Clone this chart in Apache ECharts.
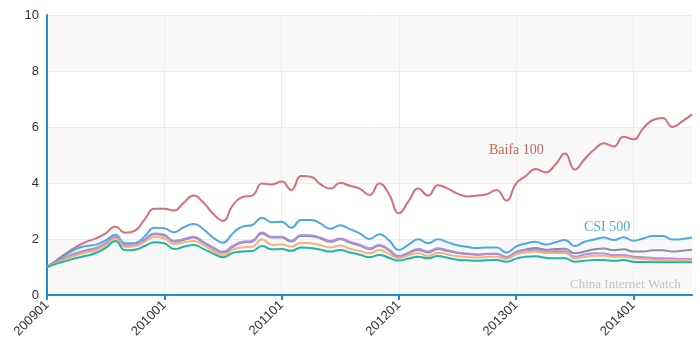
<!DOCTYPE html>
<html>
<head>
<meta charset="utf-8">
<script src="https://cdn.jsdelivr.net/npm/echarts@6/dist/echarts.min.js"></script>
<style>
  html, body { margin: 0; padding: 0; background: #fff; }
  #chart { width: 700px; height: 352px; }
</style>
</head>
<body>
<div id="chart"></div>
<script>
// months 200901 .. 201407
const months = [];
for (let y = 2009; y <= 2014; y++) {
  for (let m = 1; m <= 12; m++) {
    if (y === 2014 && m > 7) break;
    months.push(String(y) + (m < 10 ? "0" + m : m));
  }
}

const baifa100 = [1.0, 1.25, 1.5, 1.72, 1.9, 2.02, 2.2, 2.45, 2.22, 2.3, 2.7, 3.08, 3.08, 3.02, 3.3, 3.55, 3.3, 2.9, 2.65, 3.2,
  3.5, 3.55, 3.98, 3.95, 4.05, 3.75, 4.25, 4.22, 3.95, 3.8, 4.0, 3.9, 3.8, 3.57, 3.98, 3.6, 2.92, 3.35, 3.8, 3.55,
  3.92, 3.8, 3.62, 3.52, 3.55, 3.6, 3.75, 3.37, 3.98, 4.25, 4.5, 4.38, 4.65, 5.05, 4.48, 4.85, 5.2, 5.42, 5.3, 5.65,
  5.56, 5.95, 6.25, 6.32, 6.0, 6.2, 6.45];
const csi500 = [1.0, 1.2, 1.45, 1.65, 1.75, 1.8, 1.95, 2.15, 1.85, 1.85, 2.1, 2.4, 2.38, 2.24, 2.42, 2.54, 2.35, 2.05, 1.87, 2.2,
  2.44, 2.5, 2.76, 2.6, 2.62, 2.4, 2.68, 2.68, 2.55, 2.37, 2.49, 2.35, 2.2, 2.0, 2.17, 1.95, 1.61, 1.8, 1.99, 1.85,
  1.99, 1.88, 1.78, 1.72, 1.68, 1.7, 1.7, 1.52, 1.73, 1.84, 1.9, 1.8, 1.88, 1.96, 1.75, 1.9, 1.98, 2.05, 1.96, 2.06,
  1.94, 2.02, 2.11, 2.11, 1.98, 2.0, 2.05];
const purpleIdx = [1.0, 1.18, 1.35, 1.5, 1.6, 1.68, 1.85, 2.1, 1.78, 1.8, 2.0, 2.2, 2.15, 1.94, 2.0, 2.08, 1.9, 1.7, 1.55, 1.75,
  1.9, 1.94, 2.23, 2.08, 2.08, 1.94, 2.14, 2.13, 2.05, 1.93, 2.02, 1.9, 1.8, 1.67, 1.79, 1.62, 1.39, 1.52, 1.64, 1.55,
  1.67, 1.6, 1.52, 1.48, 1.45, 1.47, 1.47, 1.35, 1.52, 1.6, 1.62, 1.55, 1.56, 1.56, 1.37, 1.45, 1.49, 1.48, 1.42, 1.43,
  1.37, 1.35, 1.32, 1.31, 1.3, 1.29, 1.29];
const grayIdx = [1.0, 1.16, 1.33, 1.47, 1.57, 1.65, 1.82, 2.07, 1.75, 1.77, 1.97, 2.17, 2.12, 1.91, 1.97, 2.05, 1.87, 1.67, 1.52, 1.72,
  1.87, 1.91, 2.2, 2.05, 2.05, 1.91, 2.11, 2.1, 2.02, 1.9, 1.99, 1.87, 1.77, 1.64, 1.76, 1.59, 1.36, 1.49, 1.61, 1.52,
  1.64, 1.57, 1.5, 1.46, 1.44, 1.46, 1.47, 1.36, 1.54, 1.63, 1.68, 1.62, 1.64, 1.65, 1.49, 1.55, 1.63, 1.66, 1.6, 1.63,
  1.55, 1.55, 1.6, 1.6, 1.55, 1.58, 1.62];
const orangeIdx = [1.0, 1.15, 1.3, 1.42, 1.52, 1.6, 1.78, 2.02, 1.72, 1.75, 1.9, 2.07, 2.02, 1.82, 1.88, 1.93, 1.78, 1.58, 1.43, 1.62,
  1.7, 1.72, 1.99, 1.79, 1.8, 1.73, 1.87, 1.85, 1.78, 1.7, 1.77, 1.65, 1.57, 1.49, 1.61, 1.47, 1.31, 1.42, 1.49, 1.39,
  1.51, 1.45, 1.38, 1.36, 1.34, 1.36, 1.37, 1.29, 1.45, 1.52, 1.55, 1.5, 1.5, 1.5, 1.31, 1.36, 1.4, 1.4, 1.36, 1.37,
  1.31, 1.29, 1.26, 1.25, 1.24, 1.24, 1.24];
const tealIdx = [1.0, 1.12, 1.22, 1.32, 1.4, 1.5, 1.68, 1.93, 1.6, 1.62, 1.75, 1.88, 1.85, 1.64, 1.72, 1.79, 1.65, 1.48, 1.35, 1.5,
  1.55, 1.57, 1.75, 1.63, 1.64, 1.58, 1.7, 1.68, 1.62, 1.55, 1.61, 1.52, 1.44, 1.35, 1.43, 1.33, 1.23, 1.3, 1.37, 1.31,
  1.39, 1.33, 1.26, 1.24, 1.22, 1.24, 1.25, 1.19, 1.3, 1.37, 1.38, 1.33, 1.31, 1.31, 1.19, 1.22, 1.25, 1.25, 1.22, 1.25,
  1.19, 1.18, 1.17, 1.17, 1.17, 1.17, 1.17];

const axisBlue = "#1b8ed4";
const serif = "Liberation Serif, DejaVu Serif, serif";

const makeLine = (name, data, color) => ({
  name: name,
  type: "line",
  data: data,
  smooth: true,
  showSymbol: false,
  lineStyle: { color: color, width: 2 },
  itemStyle: { color: color }
});

const chart = echarts.init(document.getElementById("chart"));
chart.setOption({
  animation: false,
  grid: { left: 47, right: 8, top: 15, bottom: 57 },
  xAxis: {
    type: "category",
    data: months,
    boundaryGap: false,
    axisLine: { lineStyle: { color: axisBlue, width: 2 } },
    axisTick: { interval: 11, length: 5, lineStyle: { color: axisBlue, width: 2 } },
    axisLabel: { interval: 11, rotate: 45, color: "#333", fontSize: 13, fontFamily: "Liberation Sans, Arial, sans-serif" },
    splitLine: { show: true, interval: 11, lineStyle: { color: "#ececec" } }
  },
  yAxis: {
    type: "value",
    min: 0,
    max: 10,
    interval: 2,
    axisLine: { show: true, lineStyle: { color: axisBlue, width: 2 } },
    axisTick: { show: false },
    axisLabel: { color: "#333", fontSize: 13, fontFamily: "Liberation Sans, Arial, sans-serif" },
    splitLine: { lineStyle: { color: "#ececec" } },
    splitArea: { show: true, areaStyle: { color: ["#f8f8f9", "#ffffff"] } }
  },
  graphic: {
    elements: [
      { type: "text", x: 489, y: 143, z: 100, style: { text: "Baifa 100", fill: "#c9665e", fontSize: 14, fontFamily: serif } },
      { type: "text", x: 584, y: 220, z: 100, style: { text: "CSI 500", fill: "#55aae0", fontSize: 14, fontFamily: serif } },
      { type: "text", x: 570, y: 278, z: 100, style: { text: "China Internet Watch", fill: "#c4c4c4", fontSize: 13, fontFamily: serif } }
    ]
  },
  series: [
    makeLine("Baifa 100", baifa100, "#d4707a"),
    makeLine("CSI 500", csi500, "#4ea8e6"),
    makeLine("Index C", grayIdx, "#8b8ca3"),
    makeLine("Index B", purpleIdx, "#ab94dc"),
    makeLine("Index D", orangeIdx, "#f6b07c"),
    makeLine("Index E", tealIdx, "#1fb5a5")
  ]
});
</script>
</body>
</html>
